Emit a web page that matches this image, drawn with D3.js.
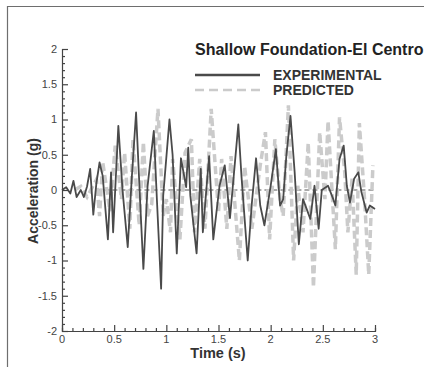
<!DOCTYPE html>
<html>
<head>
<meta charset="utf-8">
<script src="https://cdn.jsdelivr.net/npm/d3@7"></script>
<style>
  body { margin: 0; background: #fff; }
  svg text { font-family: "Liberation Sans", Arial, sans-serif; }
</style>
</head>
<body>
<svg id="chart" width="424" height="367"></svg>
<script>
// time (s) / acceleration (g), peaks
var expTime = [0, 0.04, 0.08, 0.11, 0.14, 0.18, 0.21, 0.24, 0.27, 0.30, 0.33, 0.36, 0.39, 0.44, 0.47, 0.49,
  0.54, 0.58, 0.63, 0.67, 0.71, 0.75, 0.78, 0.82, 0.88, 0.91, 0.95, 0.97, 1.03, 1.06, 1.10, 1.14, 1.19, 1.21,
  1.23, 1.29, 1.33, 1.35, 1.41, 1.45, 1.51, 1.56, 1.61, 1.69, 1.72, 1.78, 1.82, 1.86, 1.90, 1.94, 2.00, 2.05,
  2.09, 2.12, 2.15, 2.19, 2.23, 2.27, 2.31, 2.38, 2.42, 2.46, 2.49, 2.55, 2.60, 2.62, 2.66, 2.70, 2.73, 2.76,
  2.80, 2.84, 2.87, 2.92, 2.95, 3.0];
var expAccel = [0, 0.04, -0.05, 0.13, -0.1, 0.0, -0.1, 0.05, 0.3, -0.35, 0.1, 0.39, 0.2, -0.7, 0.25, -0.6,
  0.91, 0.0, -0.81, 0.2, 1.1, -0.2, -1.12, 0.05, 0.84, -0.15, -1.4, -0.08, 1.0, 0.5, -0.9, 0.45, 0.04, 0.6,
  -0.08, -0.9, 0.3, -0.6, 0.48, -0.7, 0.06, 0.35, -0.4, 0.93, 0.2, -1.0, -0.18, 0.45, -0.22, -0.5, 0.06, 0.58,
  -0.22, -0.13, 0.48, 1.05, 0.25, -0.77, -0.13, -0.41, 0.06, -0.55, 0.0, 0.06, -0.13, -0.22, 0.44, 0.63, 0.06,
  -0.18, 0.16, 0.25, -0.03, -0.32, -0.22, -0.27];

var predTime = [0.12, 0.18, 0.24, 0.33, 0.36, 0.39, 0.46, 0.51, 0.57, 0.60, 0.65, 0.68, 0.74, 0.78, 0.82,
  0.86, 0.92, 0.97, 1.0, 1.04, 1.06, 1.13, 1.18, 1.24, 1.27, 1.32, 1.37, 1.43, 1.50, 1.53, 1.58, 1.62, 1.70,
  1.75, 1.82, 1.90, 1.95, 1.99, 2.04, 2.09, 2.12, 2.17, 2.22, 2.26, 2.31, 2.36, 2.41, 2.47, 2.52, 2.55, 2.62,
  2.66, 2.71, 2.74, 2.78, 2.82, 2.85, 2.90, 2.94, 2.98];
var predAccel = [0, 0.05, -0.1, 0.15, -0.37, 0.4, -0.3, 0.63, -0.13, 0.53, -0.55, 0.72, -0.5, 0.68, -0.37,
  -0.2, 1.15, -0.37, -0.13, -0.6, 0.44, -0.7, 0.53, 0.72, -0.6, 0.44, -0.55, 1.15, -0.32, 0.44, -0.55, 0.48,
  -1.0, 0.34, -0.55, 0.35, 0.82, -0.7, 0.72, -0.13, -0.37, 1.2, -1.0, 0.06, -0.6, 0.67, -1.38, 0.82, -0.13,
  0.98, -0.84, 1.03, 0.25, -0.6, 0.16, -1.2, 0.95, -0.13, -1.2, 0.35];

var xTicks = [0, 0.5, 1, 1.5, 2, 2.5, 3];
var yTicks = [-2, -1.5, -1, -0.5, 0, 0.5, 1, 1.5, 2];

var svg = d3.select("#chart");

// outer frame (left + top only visible)
svg.append("path")
  .attr("d", "M7.5,367V6.5H424")
  .attr("fill", "none")
  .attr("stroke", "#6e6e6e")
  .attr("stroke-width", 1.2);

var x = d3.scaleLinear().domain([0, 3]).range([62, 375]);
var y = d3.scaleLinear().domain([-2, 2]).range([331, 49]);

var line = d3.line()
  .x(function (d) { return x(d[0]); })
  .y(function (d) { return y(d[1]); });

// zero reference line
svg.append("path")
  .attr("d", line([[0.33, 0], [3, 0]]))
  .attr("fill", "none")
  .attr("stroke", "#555")
  .attr("stroke-width", 1)
  .attr("stroke-dasharray", "5,3");

// predicted (light dashed)
svg.append("path")
  .datum(d3.zip(predTime, predAccel))
  .attr("d", line)
  .attr("fill", "none")
  .attr("stroke", "#cbcbcb")
  .attr("stroke-width", 3.5)
  .attr("stroke-dasharray", "8,4");

// experimental (dark solid)
svg.append("path")
  .datum(d3.zip(expTime, expAccel))
  .attr("d", line)
  .attr("fill", "none")
  .attr("stroke", "#4a4a4a")
  .attr("stroke-width", 1.8)
  .attr("stroke-linejoin", "round");

// axes, ticks pointing inward
var yAxis = svg.append("g")
  .attr("transform", "translate(62,0)")
  .call(d3.axisRight(y).tickValues(d3.range(-2, 2.001, 0.1)).tickSize(3).tickFormat(""));
yAxis.selectAll(".tick line")
  .filter(function (d) { return Math.abs(d * 2 - Math.round(d * 2)) < 1e-6; })
  .attr("x2", 6);

var xAxis = svg.append("g")
  .attr("transform", "translate(0,331)")
  .call(d3.axisTop(x).tickValues(d3.range(0, 3.001, 0.1)).tickSize(3).tickFormat(""));
xAxis.selectAll(".tick line")
  .filter(function (d) { return Math.abs(d * 2 - Math.round(d * 2)) < 1e-6; })
  .attr("y2", -6);

svg.selectAll(".domain").attr("stroke", "#444").attr("stroke-width", 1.2);
svg.selectAll(".tick line").attr("stroke", "#444").attr("stroke-width", 1.2);

svg.append("g")
  .selectAll("text")
  .data(yTicks)
  .enter()
  .append("text")
  .attr("x", 57)
  .attr("y", function (d) { return y(d); })
  .attr("dy", "0.35em")
  .attr("text-anchor", "end")
  .attr("font-size", 11)
  .attr("fill", "#444")
  .text(function (d) { return d; });

svg.append("g")
  .selectAll("text")
  .data(xTicks)
  .enter()
  .append("text")
  .attr("x", function (d) { return x(d); })
  .attr("y", 343)
  .attr("text-anchor", "middle")
  .attr("font-size", 11)
  .attr("fill", "#444")
  .text(function (d) { return d; });

svg.append("text")
  .attr("x", 218)
  .attr("y", 358)
  .attr("text-anchor", "middle")
  .attr("font-size", 14.5)
  .attr("font-weight", "bold")
  .attr("fill", "#333")
  .text("Time (s)");

svg.append("text")
  .attr("transform", "translate(38,191) rotate(-90)")
  .attr("text-anchor", "middle")
  .attr("font-size", 14)
  .attr("font-weight", "bold")
  .attr("fill", "#333")
  .text("Acceleration (g)");

// title + legend
svg.append("text")
  .attr("x", 195)
  .attr("y", 55)
  .attr("font-size", 16)
  .attr("font-weight", "bold")
  .attr("fill", "#222")
  .text("Shallow Foundation-El Centro");

svg.append("line")
  .attr("x1", 195).attr("x2", 260).attr("y1", 75).attr("y2", 75)
  .attr("stroke", "#4a4a4a").attr("stroke-width", 2.5);
svg.append("line")
  .attr("x1", 195).attr("x2", 260).attr("y1", 90).attr("y2", 90)
  .attr("stroke", "#cbcbcb").attr("stroke-width", 2.5)
  .attr("stroke-dasharray", "9,5");

svg.append("text")
  .attr("x", 273).attr("y", 80)
  .attr("font-size", 14).attr("font-weight", "bold").attr("fill", "#333")
  .text("EXPERIMENTAL");
svg.append("text")
  .attr("x", 273).attr("y", 95)
  .attr("font-size", 14).attr("font-weight", "bold").attr("fill", "#333")
  .text("PREDICTED");
</script>
</body>
</html>
